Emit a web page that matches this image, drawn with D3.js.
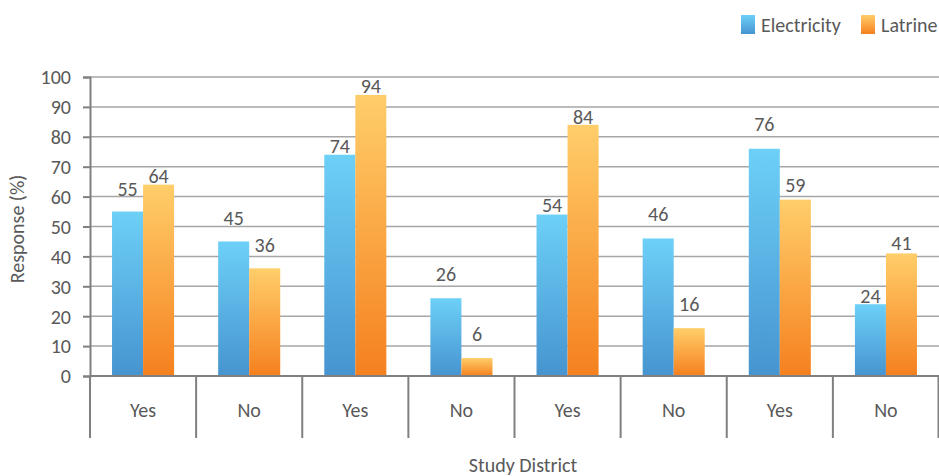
<!DOCTYPE html>
<html>
<head>
<meta charset="utf-8">
<script src="https://cdn.jsdelivr.net/npm/d3@7"></script>
<style>
  html, body { margin: 0; padding: 0; background: #fff; }
  svg { display: block; }
  text { font-family: Carlito, "Open Sans", Lato, sans-serif; fill: #595959; }
</style>
</head>
<body>
<svg id="chart" width="939" height="476"></svg>
<script>
// Responses per study district (%)
const categories = ["Yes", "No", "Yes", "No", "Yes", "No", "Yes", "No"];
const electricity = [55, 45, 74, 26, 54, 46, 76, 24];
const latrine = [64, 36, 94, 6, 84, 16, 59, 41];
const seriesNames = ["Electricity", "Latrine"];
const yTicks = [0, 10, 20, 30, 40, 50, 60, 70, 80, 90, 100];
// Gap (px) between each value label and the top of its bar
const electricityLabelGap = [16, 16, 2, 17, 3, 17, 18, 1];
const latrineLabelGap = [2, 16, 2, 17, 1, 17, 8, 3];

const FONT = 'Carlito, "Open Sans", Lato, sans-serif';
const FS = 20;
const svg = d3.select("#chart");
const plot = { left: 90, right: 939, top: 77, bottom: 376 };

const y = d3.scaleLinear().domain([0, 100]).range([plot.bottom, plot.top]);
const x0 = d3.scaleBand().domain(d3.range(categories.length)).range([plot.left, plot.right]).padding(0);
const x1 = d3.scaleBand().domain([0, 1]).range([0, x0.bandwidth()]).paddingInner(0).paddingOuter(0.71);

// Vertical gradients, light at the top of each bar
const defs = svg.append("defs");
const gradStops = [["#6dd0f7", "#4694d0"], ["#ffce6a", "#f5801e"]];
gradStops.forEach((c, i) => {
  const g = defs.append("linearGradient").attr("id", "grad" + i)
    .attr("x1", 0).attr("y1", 0).attr("x2", 0).attr("y2", 1);
  g.append("stop").attr("offset", "0%").attr("stop-color", c[0]);
  g.append("stop").attr("offset", "100%").attr("stop-color", c[1]);
});

// Horizontal gridlines
svg.append("g").selectAll("line").data(yTicks.filter(d => d > 0)).join("line")
  .attr("x1", plot.left).attr("x2", plot.right)
  .attr("y1", d => y(d)).attr("y2", d => y(d))
  .attr("stroke", "#a6a6a6").attr("stroke-width", 1.5);

// Y axis
const yAxis = d3.axisLeft(y).tickValues(yTicks).tickSize(7).tickPadding(12);
const yg = svg.append("g").attr("transform", `translate(${plot.left},0)`).call(yAxis);
yg.select(".domain").attr("stroke", "#808080").attr("stroke-width", 2);
yg.selectAll(".tick line").attr("stroke", "#808080").attr("stroke-width", 2);
yg.selectAll(".tick text").attr("font-size", FS).attr("dy", "0.34em")
  .style("font-family", FONT).attr("fill", "#595959");

// Bars and value labels
const series = [electricity, latrine];
const gaps = [electricityLabelGap, latrineLabelGap];
series.forEach((vals, s) => {
  const g = svg.append("g");
  g.selectAll("rect").data(vals).join("rect")
    .attr("x", (d, i) => x0(i) + x1(s))
    .attr("width", x1.bandwidth())
    .attr("y", d => y(d))
    .attr("height", d => y(0) - y(d))
    .attr("fill", `url(#grad${s})`);
  g.selectAll("text").data(vals).join("text")
    .attr("x", (d, i) => x0(i) + x1(s) + x1.bandwidth() / 2)
    .attr("y", (d, i) => y(d) - gaps[s][i])
    .attr("text-anchor", "middle")
    .attr("font-size", FS)
    .text(d => d);
});

// Category axis with separators
const axisBottom = plot.bottom + 62;
svg.append("line").attr("x1", plot.left).attr("x2", plot.right)
  .attr("y1", plot.bottom).attr("y2", plot.bottom)
  .attr("stroke", "#808080").attr("stroke-width", 2);
const seps = d3.range(categories.length + 1).map(i => i < categories.length ? x0(i) : plot.right - 0.5);
svg.append("g").selectAll("line").data(seps).join("line")
  .attr("x1", d => d).attr("x2", d => d)
  .attr("y1", plot.bottom).attr("y2", axisBottom)
  .attr("stroke", "#808080").attr("stroke-width", 2);
svg.append("g").selectAll("text").data(categories).join("text")
  .attr("x", (d, i) => x0(i) + x0.bandwidth() / 2)
  .attr("y", 417)
  .attr("text-anchor", "middle")
  .attr("font-size", FS)
  .text(d => d);

// Axis titles
svg.append("text").attr("x", 523).attr("y", 472).attr("text-anchor", "middle")
  .attr("font-size", FS).text("Study District");
svg.append("text").attr("transform", "translate(24,229) rotate(-90)")
  .attr("text-anchor", "middle").attr("font-size", FS).text("Response (%)");

// Legend
const legendX = [741, 861];
seriesNames.forEach((name, i) => {
  svg.append("rect").attr("x", legendX[i]).attr("y", 15).attr("width", 14).attr("height", 19)
    .attr("fill", `url(#grad${i})`);
  svg.append("text").attr("x", legendX[i] + 20).attr("y", 31.5).attr("font-size", FS).text(name);
});
</script>
</body>
</html>
